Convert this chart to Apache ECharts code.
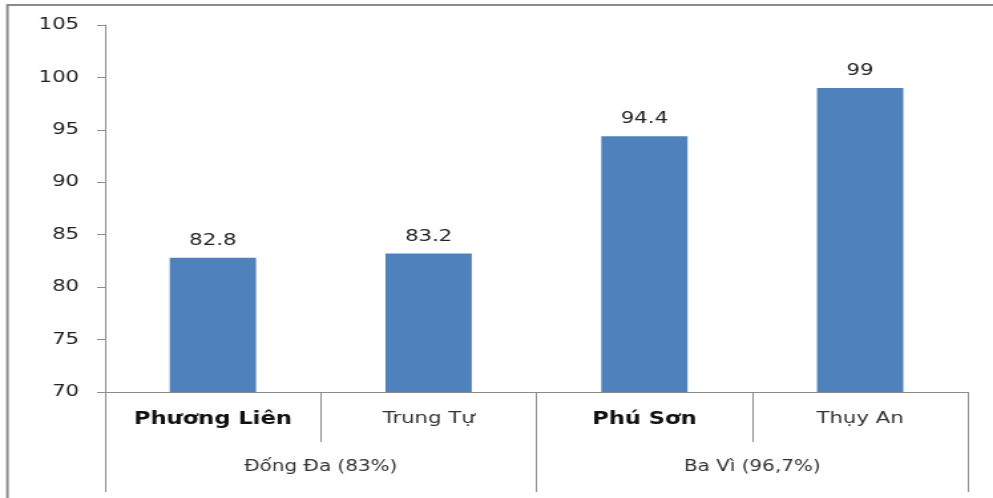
<!DOCTYPE html>
<html>
<head>
<meta charset="utf-8">
<script src="https://cdn.jsdelivr.net/npm/echarts@6/dist/echarts.min.js"></script>
<style>
  html, body { margin: 0; padding: 0; background: #fff; overflow: hidden; }
  /* The chart is laid out at a narrower width and stretched horizontally */
  #wrap { position: absolute; left: 0; top: 0; width: 747px; height: 498px;
          transform: scaleX(1.3293); transform-origin: 0 0; }
  #chart { width: 747px; height: 498px; }
</style>
</head>
<body>
<div id="wrap"><div id="chart"></div></div>
<script>
// Communes (first label row) and their districts (second label row)
const communes = ['Phương Liên', 'Trung Tự', 'Phú Sơn', 'Thụy An'];
const values = [82.8, 83.2, 94.4, 99];
const districts = ['Đống Đa (83%)', 'Ba Vì (96,7%)'];
const boldCommunes = ['Phương Liên', 'Phú Sơn'];
const yTicks = [70, 75, 80, 85, 90, 95, 100, 105];

const FONT = 'DejaVu Sans';
const GRAY = '#8c8c8c';

const chart = echarts.init(document.getElementById('chart'));
chart.setOption({
  animation: false,
  backgroundColor: '#fff',
  graphic: [{
    type: 'rect',
    shape: { x: 5.6, y: 5, width: 3000, height: 3000 },
    style: { fill: 'none', stroke: GRAY, lineWidth: 2 },
    silent: true
  }],
  grid: { left: 79, right: 18.8, top: 25, bottom: 106 },
  xAxis: [{
    type: 'category',
    data: communes,
    axisLine: { lineStyle: { color: GRAY, width: 1 } },
    axisTick: { show: true, length: 50, interval: 0, lineStyle: { color: GRAY } },
    axisLabel: {
      interval: 0,
      margin: 19,
      fontFamily: FONT,
      formatter: v => boldCommunes.includes(v) ? '{b|' + v + '}' : '{n|' + v + '}',
      rich: {
        b: { fontFamily: FONT, fontSize: 17, fontWeight: 'bold', color: '#111' },
        n: { fontFamily: FONT, fontSize: 16, color: '#333' }
      }
    }
  }, {
    type: 'category',
    position: 'bottom',
    data: districts,
    axisLine: { show: false },
    axisTick: { show: true, length: 100, interval: 0, lineStyle: { color: GRAY } },
    axisLabel: { interval: 0, margin: 68, fontFamily: FONT, fontSize: 15, color: '#333' }
  }],
  yAxis: {
    type: 'value',
    min: yTicks[0],
    max: yTicks[yTicks.length - 1],
    interval: 5,
    axisLine: { show: true, lineStyle: { color: GRAY, width: 1 } },
    axisTick: { show: true, length: 6, lineStyle: { color: GRAY } },
    splitLine: { show: false },
    axisLabel: { margin: 19.5, fontFamily: FONT, fontSize: 16, color: '#222' }
  },
  series: [{
    type: 'bar',
    xAxisIndex: 0,
    data: values,
    barWidth: '40%',
    itemStyle: { color: '#4F81BD' },
    label: {
      show: true,
      position: 'top',
      distance: 9,
      fontFamily: FONT,
      fontSize: 16,
      color: '#222'
    }
  }]
});
</script>
</body>
</html>
